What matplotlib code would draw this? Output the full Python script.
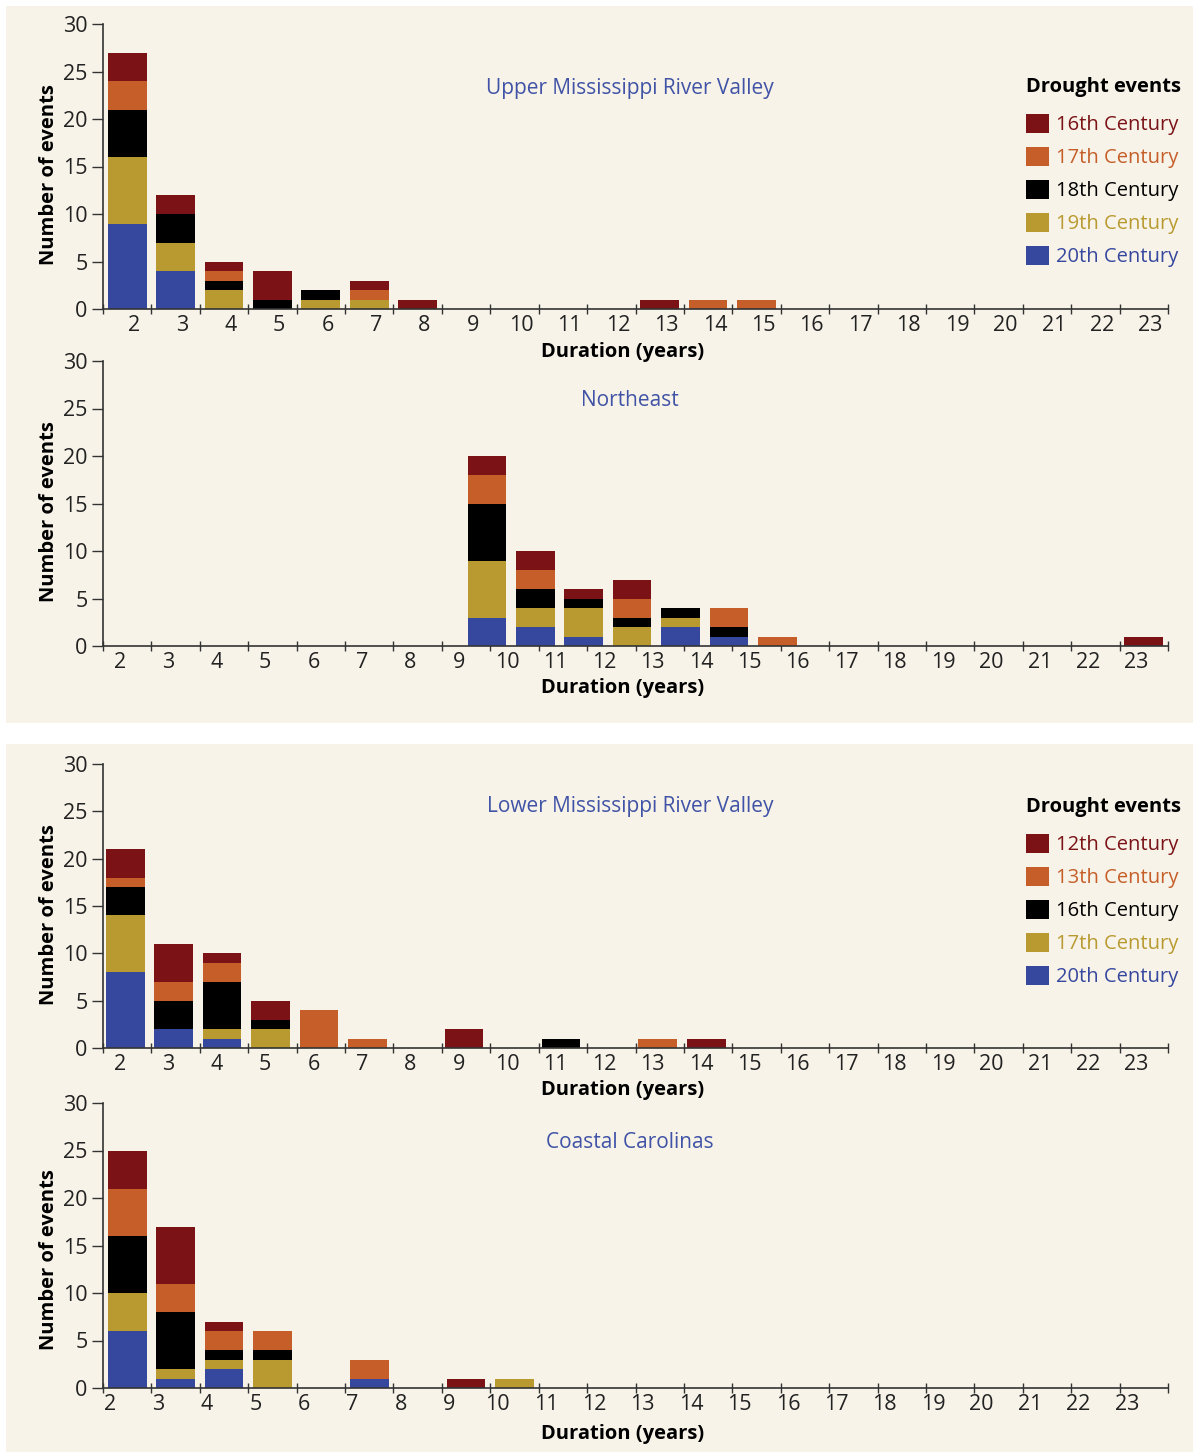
import numpy as np
import matplotlib
matplotlib.use('Agg')
import matplotlib.pyplot as plt
from matplotlib.patches import Patch, Rectangle

plt.rcParams['font.family'] = ['Open Sans', 'DejaVu Sans']

# ---------------- data ----------------
# Upper Mississippi River Valley (16th..20th century)
upper_dur = [2, 3, 4, 5, 6, 7, 8, 13, 14, 15]
upper_c20 = [9, 4, 0, 0, 0, 0, 0, 0, 0, 0]
upper_c19 = [7, 3, 2, 0, 1, 1, 0, 0, 0, 0]
upper_c18 = [5, 3, 1, 1, 1, 0, 0, 0, 0, 0]
upper_c17 = [3, 0, 1, 0, 0, 1, 0, 0, 1, 1]
upper_c16 = [3, 2, 1, 3, 0, 1, 1, 1, 0, 0]

# Northeast
ne_dur = [10, 11, 12, 13, 14, 15, 16, 23]
ne_c20 = [3, 2, 1, 0, 2, 1, 0, 0]
ne_c19 = [6, 2, 3, 2, 1, 0, 0, 0]
ne_c18 = [6, 2, 1, 1, 1, 1, 0, 0]
ne_c17 = [3, 2, 0, 2, 0, 2, 1, 0]
ne_c16 = [2, 2, 1, 2, 0, 0, 0, 1]

# Lower Mississippi River Valley (12th, 13th, 16th, 17th, 20th century)
lower_dur = [2, 3, 4, 5, 6, 7, 9, 11, 13, 14]
lower_c20 = [8, 2, 1, 0, 0, 0, 0, 0, 0, 0]
lower_c17 = [6, 0, 1, 2, 0, 0, 0, 0, 0, 0]
lower_c16 = [3, 3, 5, 1, 0, 0, 0, 1, 0, 0]
lower_c13 = [1, 2, 2, 0, 4, 1, 0, 0, 1, 0]
lower_c12 = [3, 4, 1, 2, 0, 0, 2, 0, 0, 1]

# Coastal Carolinas
coast_dur = [2, 3, 4, 5, 7, 9, 10]
coast_c20 = [6, 1, 2, 0, 1, 0, 0]
coast_c17 = [4, 1, 1, 3, 0, 0, 1]
coast_c16 = [6, 6, 1, 1, 0, 0, 0]
coast_c13 = [5, 3, 2, 2, 2, 0, 0]
coast_c12 = [4, 6, 1, 0, 0, 1, 0]

durations = np.arange(2, 24)
legend1 = ['16th Century', '17th Century', '18th Century', '19th Century', '20th Century']
legend2 = ['12th Century', '13th Century', '16th Century', '17th Century', '20th Century']

# ---------------- style ----------------
W, H = 1194, 1454
BG = '#F7F3E8'
TXT = '#222222'
TITLE_C = '#4053A6'
# top of stack first: dark red, orange, black, gold, blue
cols = ['#7A1216', '#C55E28', '#000000', '#B89A30', '#36479E']

fig = plt.figure(figsize=(W / 100, H / 100), dpi=100)
fig.patch.set_facecolor('white')
fig.add_artist(Rectangle((6 / W, 1 - 723 / H), 1187 / W, 717 / H,
                         transform=fig.transFigure, facecolor=BG, edgecolor='none', zorder=-10))
fig.add_artist(Rectangle((6 / W, 1 - 1452 / H), 1187 / W, 708 / H,
                         transform=fig.transFigure, facecolor=BG, edgecolor='none', zorder=-10))


def make_ax(y_top, y_bot):
    return fig.add_axes([103 / W, 1 - y_bot / H, (1168 - 103) / W, (y_bot - y_top) / H])


def panel(ax, dur, stack, title, title_y, bar_shift, lab_shift, ylab_y=0.47, xlab_dy=43):
    dur = np.array(dur, dtype=float)
    bottom = np.zeros(len(dur))
    # stack given top->bottom, draw bottom->top
    for vals, c in zip(stack[::-1], cols[::-1]):
        vals = np.array(vals, dtype=float)
        ax.bar(dur + bar_shift, vals, 0.8, bottom=bottom, color=c, linewidth=0, zorder=2)
        bottom += vals
    ax.set_facecolor('none')
    ax.set_xlim(1.5, 23.5)
    ax.set_ylim(0, 30)
    for s in ['top', 'right']:
        ax.spines[s].set_visible(False)
    for s in ['left', 'bottom']:
        ax.spines[s].set_color('#333333')
        ax.spines[s].set_linewidth(1.2)
        ax.spines[s].set_zorder(3)
    ax.set_xticks(np.arange(1.5, 24, 1))
    ax.set_xticklabels([])
    ax.tick_params(axis='x', which='major', direction='inout', length=7, width=1, color='#333333')
    ax.set_xticks(durations + lab_shift, minor=True)
    ax.set_xticklabels([str(d) for d in durations], minor=True)
    ax.tick_params(axis='x', which='minor', length=0, pad=4, labelsize=15.5, labelcolor=TXT)
    ax.set_yticks(np.arange(0, 31, 5))
    ax.tick_params(axis='y', direction='out', length=8, width=1, color='#333333',
                   pad=3, labelsize=15.5, labelcolor=TXT)
    ax.text(0.495, title_y, title, transform=ax.transAxes, ha='center', va='center',
            fontsize=15, color=TITLE_C)
    ax.text(-0.051, ylab_y, 'Number of events', transform=ax.transAxes, rotation=90,
            ha='center', va='center', fontsize=14.5, fontweight='bold', color='black')
    ax.text(0.488, -xlab_dy / 285, 'Duration (years)', transform=ax.transAxes,
            ha='center', va='center', fontsize=14.5, fontweight='bold', color='black')


def add_legend(ax, labels, x, y):
    handles = [Patch(facecolor=c, edgecolor='none') for c in cols]
    leg = ax.legend(handles, labels, title='Drought events', loc='upper left',
                    bbox_to_anchor=(x / W, 1 - y / H), bbox_transform=fig.transFigure,
                    frameon=False, fontsize=14.5,
                    title_fontproperties={'weight': 'bold', 'size': 14.5},
                    labelcolor=cols, handlelength=1.15, handleheight=1.1, handletextpad=0.35,
                    labelspacing=0.57, borderpad=0, borderaxespad=0, alignment='left')
    leg._legend_box.sep = 12
    return leg


ax1 = make_ax(24, 309)
panel(ax1, upper_dur, [upper_c16, upper_c17, upper_c18, upper_c19, upper_c20],
      'Upper Mississippi River Valley', 0.772, 0.0, 0.14)
add_legend(ax1, legend1, 1026, 77)

ax2 = make_ax(361, 646)
ne_shift = np.where(np.array(ne_dur) < 20, -0.57, 0.0)
panel(ax2, np.array(ne_dur) + ne_shift, [ne_c16, ne_c17, ne_c18, ne_c19, ne_c20],
      'Northeast', 0.86, 0.0, -0.15, xlab_dy=42)

ax3 = make_ax(764, 1048)
panel(ax3, lower_dur, [lower_c12, lower_c13, lower_c16, lower_c17, lower_c20],
      'Lower Mississippi River Valley', 0.852, -0.04, -0.15, xlab_dy=42)
add_legend(ax3, legend2, 1026, 797)

ax4 = make_ax(1103, 1388)
panel(ax4, coast_dur, [coast_c12, coast_c13, coast_c16, coast_c17, coast_c20],
      'Coastal Carolinas', 0.86, 0.0, -0.35, ylab_y=0.449, xlab_dy=46)

plt.savefig('out.png', dpi=100, facecolor=fig.get_facecolor())
